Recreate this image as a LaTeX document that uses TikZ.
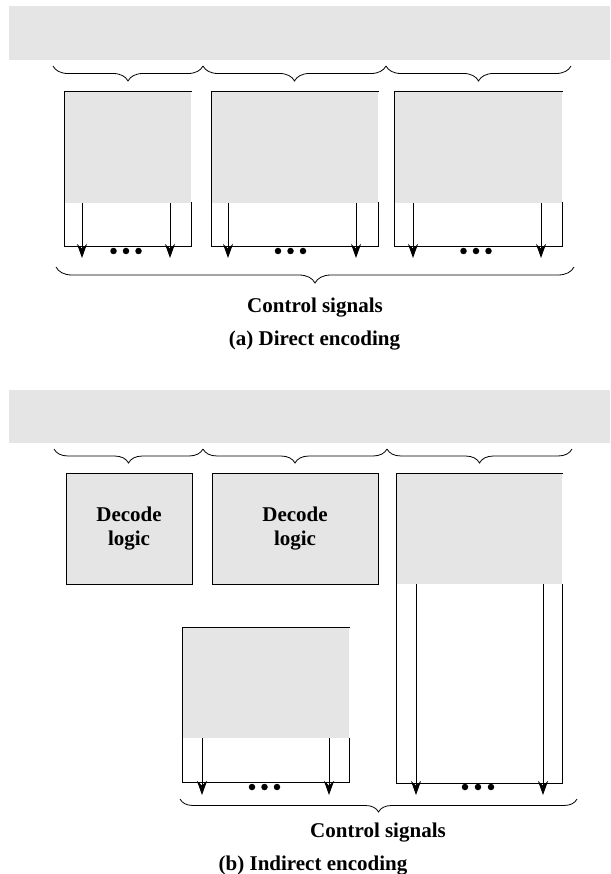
\documentclass[tikz,border=0pt]{standalone}
\usepackage{fontspec}
\setmainfont{Liberation Serif}
\usetikzlibrary{arrows.meta,decorations.pathreplacing}
\definecolor{boxgray}{RGB}{229,229,229}
\begin{document}
\begin{tikzpicture}[x=1pt,y=-1pt,
  graybar/.style={fill=boxgray, draw=none, inner sep=0pt, outer sep=0pt},
  decodebox/.style={fill=boxgray, draw=black, line width=1pt, inner sep=0pt, outer sep=0pt,
    align=center, font=\fontsize{21}{24}\selectfont\bfseries},
  outline/.style={line width=1pt, line cap=rect},
  sig/.style={line width=1pt, -{Stealth[length=14pt,width=10pt,inset=4.5pt]}},
  dotmark/.style={circle, fill=black, draw=none, inner sep=0pt, minimum size=6.5pt},
  bracedown/.style={decorate, decoration={brace, mirror, amplitude=#1}, line width=0.8pt},
  bracedown/.default=15pt,
  lbl/.style={font=\fontsize{21}{24}\selectfont\bfseries, inner sep=0pt, anchor=base}
]
\useasboundingbox (0,0) rectangle (610,874);

% ---------------- (a) Direct encoding ----------------
\node[graybar, minimum width=601pt, minimum height=54pt] (abar) at (309.5,33) {};
\draw[bracedown] (53,66) -- (203,66);
\draw[bracedown] (203,66) -- (386,66);
\draw[bracedown] (386,66) -- (571,66);

% box a1
\node[graybar, minimum width=127pt, minimum height=111pt] (a1) at (127.5,147.5) {};
\draw[outline] (a1.north east) -- (a1.north west) -- ++(0,155) -| (a1.south east);
\coordinate (a1s1) at (82,203);  \coordinate (a1e1) at (82,258);
\coordinate (a1s2) at (170,203); \coordinate (a1e2) at (170,258);
\draw[sig] (a1s1) -- (a1e1);
\draw[sig] (a1s2) -- (a1e2);
\node[dotmark] (a1d1) at (113.5,251) {};
\node[dotmark] (a1d2) at (126,251) {};
\node[dotmark] (a1d3) at (138.5,251) {};

% box a2
\node[graybar, minimum width=167pt, minimum height=111pt] (a2) at (294.5,147.5) {};
\draw[outline] (a2.north east) -- (a2.north west) -- ++(0,155) -| (a2.south east);
\coordinate (a2s1) at (228,203); \coordinate (a2e1) at (228,258);
\coordinate (a2s2) at (356,203); \coordinate (a2e2) at (356,258);
\draw[sig] (a2s1) -- (a2e1);
\draw[sig] (a2s2) -- (a2e2);
\node[dotmark] (a2d1) at (278,251) {};
\node[dotmark] (a2d2) at (290.5,251) {};
\node[dotmark] (a2d3) at (303,251) {};

% box a3
\node[graybar, minimum width=168pt, minimum height=111pt] (a3) at (478,147.5) {};
\draw[outline] (a3.north east) -- (a3.north west) -- ++(0,155) -| (a3.south east);
\coordinate (a3s1) at (413,203); \coordinate (a3e1) at (413,258);
\coordinate (a3s2) at (541,203); \coordinate (a3e2) at (541,258);
\draw[sig] (a3s1) -- (a3e1);
\draw[sig] (a3s2) -- (a3e2);
\node[dotmark] (a3d1) at (463.5,251) {};
\node[dotmark] (a3d2) at (476,251) {};
\node[dotmark] (a3d3) at (488.5,251) {};

\draw[bracedown=16pt] (56,267) -- (574,267);
\node[lbl] (acs) at (315,312) {Control signals};
\node[lbl] (acap) at (314.5,345) {(a) Direct encoding};

% ---------------- (b) Indirect encoding ----------------
\node[graybar, minimum width=601pt, minimum height=53pt] (bbar) at (309.5,416.5) {};
\draw[bracedown=14pt] (54,449) -- (203,449);
\draw[bracedown=14pt] (203,449) -- (387,449);
\draw[bracedown=14pt] (387,449) -- (572,449);

\node[decodebox, minimum width=126pt, minimum height=111pt] (b1) at (129,528.5) {Decode\\logic};
\node[decodebox, minimum width=166pt, minimum height=111pt] (b2) at (295,528.5) {Decode\\logic};

% right box b3
\node[graybar, minimum width=166pt, minimum height=111pt] (b3) at (479,528.5) {};
\draw[outline] (b3.north east) -- (b3.north west) -- ++(0,310) -| (b3.south east);
\coordinate (b3s1) at (416,584); \coordinate (b3e1) at (416,795);
\coordinate (b3s2) at (543,584); \coordinate (b3e2) at (543,795);
\draw[sig] (b3s1) -- (b3e1);
\draw[sig] (b3s2) -- (b3e2);
\node[dotmark] (b3d1) at (465,787) {};
\node[dotmark] (b3d2) at (478,787) {};
\node[dotmark] (b3d3) at (491,787) {};

% lower-left box b4
\node[graybar, minimum width=167pt, minimum height=111pt] (b4) at (265.5,682.5) {};
\draw[outline] (b4.north east) -- (b4.north west) -- ++(0,155) -| (b4.south east);
\coordinate (b4s1) at (202,738); \coordinate (b4e1) at (202,795);
\coordinate (b4s2) at (329,738); \coordinate (b4e2) at (329,795);
\draw[sig] (b4s1) -- (b4e1);
\draw[sig] (b4s2) -- (b4e2);
\node[dotmark] (b4d1) at (252,787) {};
\node[dotmark] (b4d2) at (264.5,787) {};
\node[dotmark] (b4d3) at (277,787) {};

\draw[bracedown=13pt] (180,799) -- (577,799);
\node[lbl] (bcs) at (378,837) {Control signals};
\node[lbl] (bcap) at (313,870) {(b) Indirect encoding};
\end{tikzpicture}
\end{document}
